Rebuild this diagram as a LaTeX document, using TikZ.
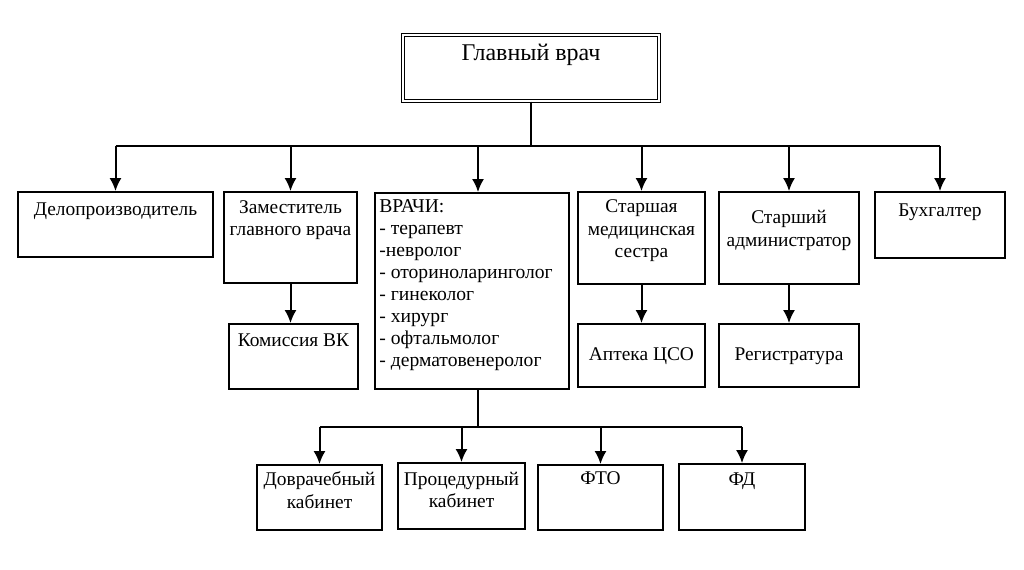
\documentclass[tikz,border=0pt]{standalone}
\usepackage{fontspec}
\setmainfont{Liberation Serif}
\usetikzlibrary{arrows.meta,positioning}

\begin{document}
\begin{tikzpicture}[x=0.5pt, y=-0.5pt,
      box/.style={draw, line width=0.9pt, inner sep=0pt},
      txt/.style={align=center, inner sep=0pt, font=\fontsize{9.7}{11.2}\selectfont},
      line/.style={line width=1pt},
      arr/.style={line width=1pt, -{Latex[length=6.5pt, width=6pt]}}]
    \useasboundingbox (0,0) rectangle (1024,569);
    % head
    \node[draw, double, double distance=1pt, line width=0.6pt, minimum width=128pt,
          minimum height=33pt] (glav) at (531,68) {};
    \node[txt, font=\fontsize{12}{14}\selectfont] (glavt) at (531,55) {Главный врач};
    % first level
    \node[box, minimum width=97.5pt, minimum height=32.5pt] (delo) at (115.5,224.5) {};
    \node[box, minimum width=66.5pt, minimum height=45.5pt] (zam) at (290.5,237.5) {};
    \node[box, minimum width=97pt, minimum height=98pt] (vrachi) at (472,291) {};
    \node[box, minimum width=63.5pt, minimum height=46pt] (sms) at (641.5,238) {};
    \node[box, minimum width=70pt, minimum height=46pt] (sadm) at (789,238) {};
    \node[box, minimum width=65pt, minimum height=33pt] (buh) at (940,225) {};
    \node[txt] (delot) at (115.5,211) {Делопроизводитель};
    \node[txt] (zamt) at (290.5,220) {Заместитель\\главного врача};
    \node[txt, align=left, anchor=west, font=\fontsize{9.8}{11}\selectfont] (vracht) at (379,285)
      {ВРАЧИ:\\- терапевт\\-невролог\\- оториноларинголог\\- гинеколог\\- хирург\\- офтальмолог\\- дерматовенеролог};
    \node[txt] (smst) at (641.5,231) {Старшая\\медицинская\\сестра};
    \node[txt] (sadmt) at (789,230.5) {Старший\\администратор};
    \node[txt] (buht) at (940,212) {Бухгалтер};
    % second level
    \node[box, minimum width=64.5pt, minimum height=32.5pt] (kom) at (293.5,356.5) {};
    \node[box, minimum width=63.5pt, minimum height=31.5pt] (apt) at (641.5,355.5) {};
    \node[box, minimum width=70pt, minimum height=31.5pt] (reg) at (789,355.5) {};
    \node[txt] (komt) at (293.5,340) {Комиссия ВК};
    \node[txt] (aptt) at (641.5,356) {Аптека ЦСО};
    \node[txt] (regt) at (789,356) {Регистратура};
    % cabinets
    \node[box, minimum width=62.5pt, minimum height=32.5pt] (dovr) at (319.5,497.5) {};
    \node[box, minimum width=63.5pt, minimum height=33pt] (proc) at (461.5,496) {};
    \node[box, minimum width=62.5pt, minimum height=32.5pt] (fto) at (600.5,497.5) {};
    \node[box, minimum width=63pt, minimum height=33pt] (fd) at (742,497) {};
    \node[txt] (dovrt) at (319.5,490) {Доврачебный\\кабинет};
    \node[txt] (proct) at (461.5,490) {Процедурный\\кабинет};
    \node[txt] (ftot) at (600.5,478) {ФТО};
    \node[txt] (fdt) at (742,481) {ФД};
    % connectors
    \coordinate (bus) at (531,146);
    \coordinate (bus2) at (478,427);
    \draw[line] (glav) -- (bus);
    \draw[line] (delo.north |- bus) -- (buh.north |- bus);
    \foreach \n in {delo,zam,sms,sadm,buh}
      \draw[arr] (\n.north |- bus) -- (\n);
    \draw[arr] (bus2 |- bus) -- (bus2 |- vrachi.north);
    \draw[arr] (zam.south) -- (zam.south |- kom.north);
    \draw[arr] (sms) -- (apt);
    \draw[arr] (sadm) -- (reg);
    \draw[line] (bus2 |- vrachi.south) -- (bus2);
    \draw[line] (dovr.north |- bus2) -- (fd.north |- bus2);
    \foreach \n in {dovr,proc,fto,fd}
      \draw[arr] (\n.north |- bus2) -- (\n);
\end{tikzpicture}
\end{document}
